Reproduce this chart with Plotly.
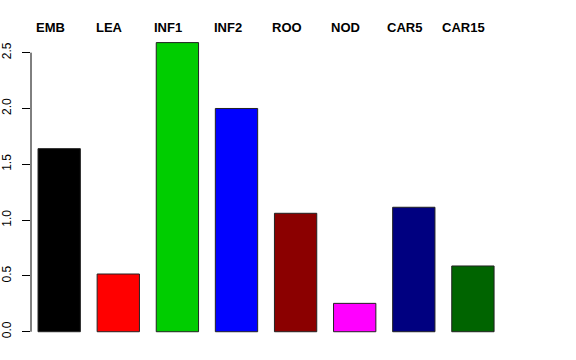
import plotly.graph_objects as go

categories = ["EMB", "LEA", "INF1", "INF2", "ROO", "NOD", "CAR5", "CAR15"]
values = [1.64, 0.517, 2.59, 2.00, 1.061, 0.254, 1.115, 0.589]
colors = ["#000000", "#FF0000", "#00CD00", "#0000FF", "#8B0000", "#FF00FF", "#000080", "#006400"]
y_ticks = [0.0, 0.5, 1.0, 1.5, 2.0, 2.5]
y_tick_labels = ["0.0", "0.5", "1.0", "1.5", "2.0", "2.5"]

xs = list(range(len(categories)))

fig = go.Figure()
fig.add_trace(go.Bar(
    x=xs, y=values, width=0.716,
    marker=dict(color=colors, line=dict(color="#222222", width=1)),
    hoverinfo="skip",
))

for i, lab in enumerate(categories):
    fig.add_annotation(
        x=xs[i], y=1, xref="x", yref="paper", yanchor="bottom",
        text="<b>" + lab + "</b>", showarrow=False, xshift=-9, yshift=-5,
        font=dict(family="Liberation Sans, Arial, sans-serif", size=13, color="black"),
    )

fig.add_shape(type="line", xref="paper", yref="y", x0=0, x1=0,
              y0=y_ticks[0], y1=y_ticks[-1], line=dict(color="black", width=1))

fig.update_layout(
    width=576, height=360,
    margin=dict(l=31, r=46, t=32, b=17, autoexpand=False),
    plot_bgcolor="white", paper_bgcolor="white",
    showlegend=False,
    font=dict(family="Liberation Sans, Arial, sans-serif", color="black"),
)
fig.update_xaxes(range=[-0.477, 7.966], showticklabels=False, showgrid=False,
                 zeroline=False, showline=False, ticks="", automargin=False)
fig.update_yaxes(range=[-0.101, 2.685], tickvals=y_ticks, ticktext=y_tick_labels,
                 tickangle=-90, ticks="outside", ticklen=8, tickcolor="black",
                 tickwidth=1, showgrid=False, zeroline=False, showline=False,
                 tickfont=dict(size=12), ticklabelstandoff=6, automargin=False)

fig.write_html("out.html", config={"displayModeBar": False},
               post_script="document.body.style.margin='0';document.body.style.overflow='hidden';")
